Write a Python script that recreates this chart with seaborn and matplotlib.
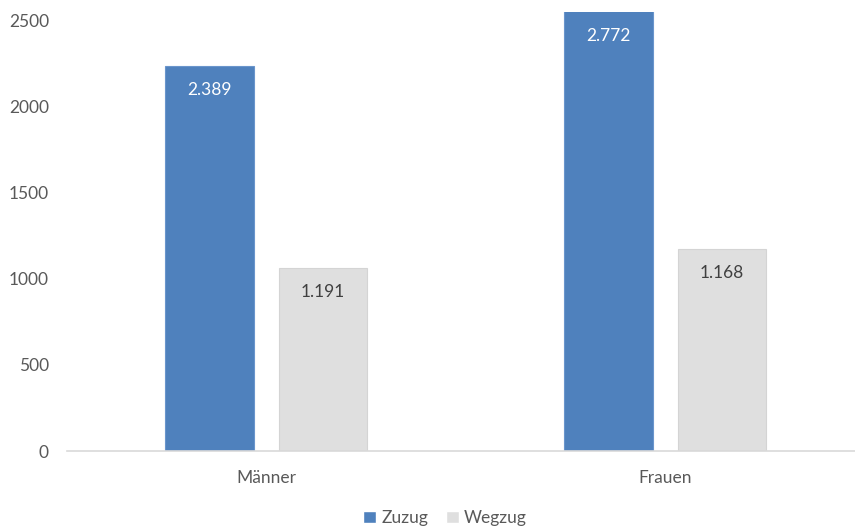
import pandas as pd
import matplotlib.pyplot as plt
import seaborn as sns

# Data (bar heights as drawn, labels as printed)
categories = ['Männer', 'Frauen']
series = ['Zuzug', 'Wegzug']
zuzug = [2240, 2772]
wegzug = [1065, 1175]
zuzug_labels = ['2.389', '2.772']
wegzug_labels = ['1.191', '1.168']
yticks = [0, 500, 1000, 1500, 2000, 2500]

colors = {'Zuzug': '#4F81BD', 'Wegzug': '#DFDFDF'}
edges = {'Zuzug': '#6A95CC', 'Wegzug': '#D4D4D4'}
label_colors = {'Zuzug': 'white', 'Wegzug': '#404040'}

df = pd.DataFrame({
    'Geschlecht': categories * 2,
    'Richtung': ['Zuzug'] * 2 + ['Wegzug'] * 2,
    'Anzahl': zuzug + wegzug,
})
labels = {'Zuzug': zuzug_labels, 'Wegzug': wegzug_labels}

sns.set_theme(style='white')
plt.rcParams['font.family'] = ['Lato', 'DejaVu Sans']

fig = plt.figure(figsize=(8.55, 5.29), dpi=100)
ax = fig.add_axes([67 / 855, 78 / 529, 798 / 855, 439 / 529])

sns.barplot(data=df, x='Geschlecht', y='Anzahl', hue='Richtung',
            order=categories, hue_order=series, palette=colors,
            saturation=1, width=0.506, gap=0.12, ax=ax)

ymax = 2552
ax.set_ylim(0, ymax)
ax.set_yticks(yticks)

# push the bars of each group slightly apart, then label them
for name, cont, shift in zip(series, ax.containers, [-0.016, 0.015]):
    for patch, txt in zip(cont.patches, labels[name]):
        patch.set_x(patch.get_x() + shift)
        patch.set_edgecolor(edges[name])
        patch.set_linewidth(0.8)
        top = min(patch.get_height(), ymax)
        ax.annotate(txt, xy=(patch.get_x() + patch.get_width() / 2, top),
                    xytext=(0, -17.5), textcoords='offset points',
                    ha='center', va='center', fontsize=12.5,
                    color=label_colors[name])

ax.set_xlabel('')
ax.set_ylabel('')
for s in ['top', 'right', 'left']:
    ax.spines[s].set_visible(False)
ax.spines['bottom'].set_color('#D9D9D9')
ax.spines['bottom'].set_linewidth(1.2)
ax.tick_params(axis='y', length=0, pad=13, labelsize=12.5, labelcolor='#595959')
ax.tick_params(axis='x', length=0, pad=14, labelsize=12.5, labelcolor='#595959')

handles, names = ax.get_legend_handles_labels()
ax.get_legend().remove()
fig.legend(handles, names, loc='center', bbox_to_anchor=(445 / 855, 11 / 529),
           ncol=2, frameon=False, fontsize=12.5, labelcolor='#595959',
           handlelength=0.75, handleheight=0.75, handletextpad=0.3,
           columnspacing=1.0)

fig.savefig('out.png', dpi=100)
